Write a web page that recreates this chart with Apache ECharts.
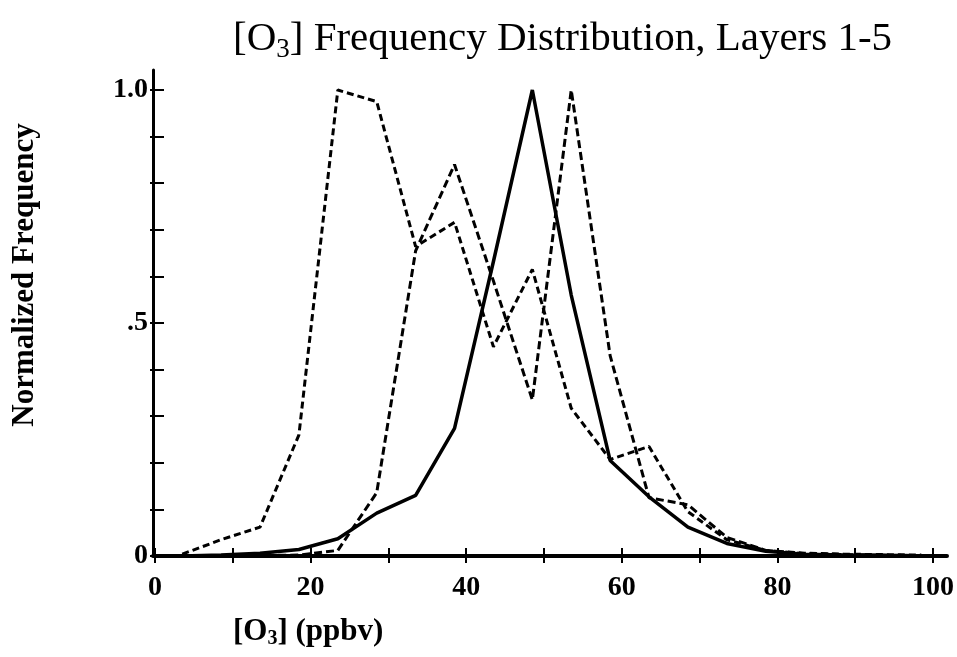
<!DOCTYPE html>
<html>
<head>
<meta charset="utf-8">
<script src="https://cdn.jsdelivr.net/npm/echarts@6/dist/echarts.min.js"></script>
<style>
html,body{margin:0;padding:0;background:#fff;}
#chart{width:957px;height:657px;}
</style>
</head>
<body>
<div id="chart"></div>
<script>
// ---- data ----
const xValues = [3.5, 8.5, 13.5, 18.5, 23.5, 28.5, 33.5, 38.5, 43.5, 48.5, 53.5, 58.5, 63.5, 68.5, 73.5, 78.5, 83.5, 88.5, 93.5, 98.5];
const solidValues = [0.000, 0.002, 0.006, 0.014, 0.037, 0.092, 0.130, 0.274, 0.632, 1.000, 0.560, 0.205, 0.127, 0.062, 0.027, 0.010, 0.004, 0.002, 0.001, 0.000];
const dashedAValues = [0.004, 0.035, 0.062, 0.260, 1.000, 0.975, 0.664, 0.716, 0.449, 0.615, 0.317, 0.207, 0.235, 0.095, 0.035, 0.012, 0.006, 0.004, 0.003, 0.002];
const dashedBValues = [0.000, 0.000, 0.001, 0.002, 0.012, 0.136, 0.655, 0.840, 0.590, 0.335, 1.000, 0.430, 0.125, 0.110, 0.040, 0.012, 0.005, 0.003, 0.002, 0.001];
const xTickValues = [0, 20, 40, 60, 80, 100];
const xTickText = ['0', '20', '40', '60', '80', '100'];
const yTickValues = [0, 0.5, 1.0];
const yTickText = ['0', '.5', '1.0'];

const titleText = '{m|[O}{s|3}{m|] Frequency Distribution, Layers 1-5}';
const xNameText = '{m|[O}{s|3}{m|] (ppbv)}';
const yNameText = 'Normalized Frequency';

const SERIF = '"Liberation Serif", "Times New Roman", serif';

function pair(xs, ys) { return xs.map((x, i) => [x, ys[i]]); }
function lookup(vals, texts, v) {
  for (let i = 0; i < vals.length; i++) if (Math.abs(vals[i] - v) < 1e-6) return texts[i];
  return '';
}

const chart = echarts.init(document.getElementById('chart'), null, {renderer: 'canvas'});

const dataGrid = {left: 155, right: 23, top: 90, bottom: 101};
const lineGrid = {left: 153, right: 10, top: 70, bottom: 101};

const option = {
  backgroundColor: '#ffffff',
  animation: false,
  title: [
    {
      text: titleText, left: 233, top: 16, padding: 0,
      textStyle: {
        rich: {
          m: {fontFamily: SERIF, fontSize: 41, fontWeight: 'normal', color: '#000'},
          s: {fontFamily: SERIF, fontSize: 27, fontWeight: 'normal', color: '#000', padding: [20, 0, 0, 0]}
        }
      }
    },
    {
      text: xNameText, left: 233, top: 614, padding: 0,
      textStyle: {
        rich: {
          m: {fontFamily: SERIF, fontSize: 31, fontWeight: 'bold', color: '#000'},
          s: {fontFamily: SERIF, fontSize: 20, fontWeight: 'bold', color: '#000', padding: [15, 0, 0, 0]}
        }
      }
    }
  ],
  graphic: [
    {
      type: 'text', x: 25, y: 275, rotation: Math.PI / 2,
      style: {
        text: yNameText, fontFamily: SERIF, fontSize: 31, fontWeight: 'bold', fill: '#000',
        textAlign: 'center', textVerticalAlign: 'middle'
      }
    }
  ],
  grid: [
    Object.assign({containLabel: false}, dataGrid),
    Object.assign({containLabel: false}, lineGrid)
  ],
  xAxis: [
    {
      type: 'value', gridIndex: 0, position: 'bottom', min: 0, max: 100, interval: 10,
      axisLine: {show: false}, splitLine: {show: false},
      axisTick: {show: true, inside: false, length: 7, lineStyle: {color: '#000', width: 2}},
      axisLabel: {
        show: true, margin: 18, color: '#000', fontFamily: SERIF, fontSize: 28, fontWeight: 'bold',
        formatter: v => lookup(xTickValues, xTickText, v)
      }
    },
    {
      type: 'value', gridIndex: 0, position: 'bottom', min: 0, max: 100, interval: 10,
      axisLine: {show: false}, splitLine: {show: false},
      axisTick: {show: true, inside: true, length: 8, lineStyle: {color: '#000', width: 2}},
      axisLabel: {show: false}
    },
    {
      type: 'value', gridIndex: 1, position: 'bottom', min: 0, max: 1,
      axisLine: {show: true, onZero: false, lineStyle: {color: '#000', width: 4}},
      axisTick: {show: false}, axisLabel: {show: false}, splitLine: {show: false}
    }
  ],
  yAxis: [
    {
      type: 'value', gridIndex: 0, position: 'left', min: 0, max: 1, interval: 0.1,
      axisLine: {show: false}, splitLine: {show: false},
      axisTick: {show: true, inside: false, length: 5, lineStyle: {color: '#000', width: 2}},
      axisLabel: {
        show: true, margin: 7, color: '#000', fontFamily: SERIF, fontSize: 28, fontWeight: 'bold',
        formatter: v => lookup(yTickValues, yTickText, v)
      }
    },
    {
      type: 'value', gridIndex: 0, position: 'left', min: 0, max: 1, interval: 0.1,
      axisLine: {show: false}, splitLine: {show: false},
      axisTick: {show: true, inside: true, length: 9, lineStyle: {color: '#000', width: 2}},
      axisLabel: {show: false}
    },
    {
      type: 'value', gridIndex: 1, position: 'left', min: 0, max: 1,
      axisLine: {show: true, onZero: false, lineStyle: {color: '#000', width: 3}},
      axisTick: {show: false}, axisLabel: {show: false}, splitLine: {show: false}
    }
  ],
  series: [
    {
      name: 'Dashed A', type: 'line', xAxisIndex: 0, yAxisIndex: 0, clip: false,
      data: pair(xValues, dashedAValues), symbol: 'none', smooth: false,
      lineStyle: {color: '#000', width: 3, type: [7, 4]}
    },
    {
      name: 'Dashed B', type: 'line', xAxisIndex: 0, yAxisIndex: 0, clip: false,
      data: pair(xValues, dashedBValues), symbol: 'none', smooth: false,
      lineStyle: {color: '#000', width: 3, type: [8, 4]}
    },
    {
      name: 'Solid', type: 'line', xAxisIndex: 0, yAxisIndex: 0, clip: false,
      data: pair(xValues, solidValues), symbol: 'none', smooth: false,
      lineStyle: {color: '#000', width: 3.5, type: 'solid'}
    }
  ]
};

chart.setOption(option);
</script>
</body>
</html>
